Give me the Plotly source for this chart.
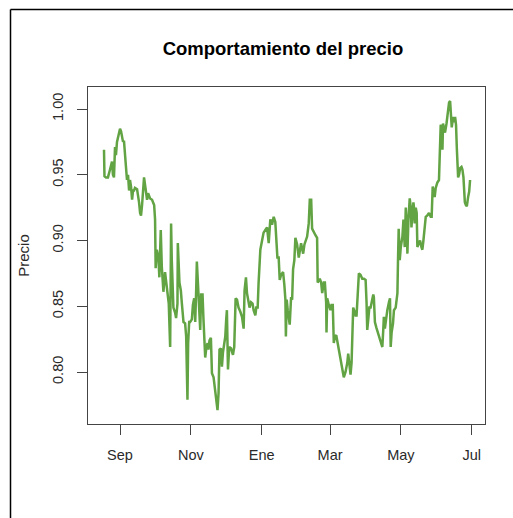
import pandas as pd
import plotly.graph_objects as go

# Serie diaria del precio: días transcurridos desde el 18-08-2012 y precio observado
inicio = "2012-08-18"
dias = [
    0.2, 0.6, 1.9, 3.6, 5.4, 7.1, 7.9, 8.8, 9.7, 10.5,
    11.4, 13.1, 14.0, 14.9, 15.7, 16.6, 17.4, 18.3, 19.2, 20.0,
    20.9, 21.8, 22.6, 23.5, 24.4, 25.2, 26.1, 26.9, 28.7, 29.5,
    30.4, 31.3, 32.1, 33.0, 33.9, 34.7, 35.6, 36.4, 37.3, 38.2,
    39.0, 39.9, 41.6, 43.4, 44.2, 44.7, 45.7, 47.1, 47.9, 49.1,
    50.0, 51.4, 52.8, 54.3, 54.8, 56.0, 57.2, 58.0, 58.6, 60.0,
    61.5, 62.3, 63.5, 63.8, 65.2, 66.4, 67.3, 68.7, 70.1, 71.0,
    72.1, 72.7, 73.6, 74.4, 75.9, 76.8, 77.9, 78.8, 79.6, 80.2,
    81.1, 82.2, 83.1, 83.9, 85.1, 85.9, 87.4, 88.3, 89.4, 90.2,
    91.1, 92.3, 93.2, 94.6, 95.4, 96.9, 98.0, 98.9, 99.7, 100.9,
    101.8, 102.7, 103.8, 104.7, 105.5, 106.1, 107.0, 108.1, 109.6, 111.3,
    112.4, 113.6, 114.8, 116.1, 117.6, 119.1, 120.5, 121.3, 122.5, 123.4,
    124.8, 125.6, 126.9, 128.2, 129.1, 130.6, 131.4, 132.6, 133.4, 134.0,
    134.9, 136.4, 137.7, 139.2, 140.7, 142.1, 143.5, 145.0, 146.4, 147.8,
    148.7, 149.6, 150.7, 151.6, 152.8, 154.5, 155.6, 156.5, 156.9, 157.6,
    158.5, 159.3, 160.2, 161.4, 162.3, 163.1, 164.2, 165.1, 166.6, 168.0,
    169.4, 170.0, 171.8, 172.9, 175.2, 176.6, 177.5, 178.7, 179.5, 180.9,
    182.4, 183.8, 184.3, 186.1, 187.3, 188.2, 189.6, 190.5, 191.6, 191.9,
    192.5, 193.9, 195.3, 196.2, 197.3, 198.2, 199.1, 200.3, 201.1, 202.5,
    203.4, 204.6, 205.7, 206.8, 208.3, 209.8, 210.6, 211.7, 212.6, 213.5,
    214.1, 214.9, 216.1, 216.9, 217.8, 218.9, 219.8, 221.2, 222.7, 224.1,
    225.6, 226.4, 227.0, 227.9, 228.8, 229.9, 231.3, 232.2, 232.7, 233.6,
    234.8, 236.2, 237.7, 239.1, 240.0, 240.8, 241.3, 242.2, 243.4, 244.3,
    245.7, 246.6, 247.2, 248.0, 249.2, 250.0, 251.5, 252.4, 253.0, 253.5,
    254.1, 255.0, 255.9, 257.3, 258.2, 259.3, 260.2, 261.1, 261.6, 262.5,
    263.6, 264.5, 265.1, 266.0, 266.8, 267.3, 267.9, 268.8, 269.6, 270.2,
    271.1, 272.5, 273.7, 274.5, 275.4, 276.5, 277.4, 278.8, 280.2, 281.7,
    282.5, 283.4, 284.0, 285.1, 286.0, 287.4, 288.8, 289.7, 290.3, 291.1,
    291.8, 292.3, 293.2, 294.0, 295.3, 296.1, 296.7, 297.5, 298.4, 299.0,
    299.8, 301.0, 301.8, 302.7, 303.5, 304.2, 304.7, 305.3, 306.1, 307.0,
    308.2, 309.0, 309.9, 311.1, 311.9, 312.8, 313.9, 314.8, 315.6,
]
precio = [
    0.969, 0.949, 0.948, 0.948, 0.954, 0.960, 0.950, 0.948, 0.971, 0.965,
    0.975, 0.982, 0.985, 0.983, 0.978, 0.975, 0.976, 0.965, 0.957, 0.946,
    0.950, 0.938, 0.946, 0.941, 0.931, 0.938, 0.938, 0.940, 0.939, 0.935,
    0.929, 0.921, 0.919, 0.927, 0.938, 0.948, 0.942, 0.938, 0.931, 0.936,
    0.933, 0.932, 0.931, 0.927, 0.916, 0.879, 0.893, 0.887, 0.872, 0.908,
    0.880, 0.861, 0.876, 0.865, 0.859, 0.852, 0.819, 0.913, 0.885, 0.849,
    0.845, 0.841, 0.852, 0.898, 0.868, 0.862, 0.852, 0.838, 0.837, 0.827,
    0.779, 0.822, 0.838, 0.838, 0.840, 0.851, 0.856, 0.838, 0.862, 0.884,
    0.868, 0.849, 0.832, 0.859, 0.859, 0.840, 0.811, 0.818, 0.822, 0.817,
    0.824, 0.826, 0.799, 0.796, 0.789, 0.781, 0.771, 0.784, 0.817, 0.818,
    0.804, 0.815, 0.822, 0.827, 0.840, 0.847, 0.802, 0.819, 0.818, 0.813,
    0.819, 0.856, 0.855, 0.849, 0.846, 0.842, 0.833, 0.862, 0.872, 0.860,
    0.853, 0.849, 0.853, 0.852, 0.847, 0.843, 0.849, 0.849, 0.868, 0.878,
    0.893, 0.900, 0.906, 0.908, 0.910, 0.898, 0.916, 0.912, 0.918, 0.914,
    0.897, 0.887, 0.887, 0.870, 0.874, 0.876, 0.866, 0.855, 0.827, 0.855,
    0.847, 0.842, 0.836, 0.857, 0.855, 0.878, 0.885, 0.902, 0.897, 0.887,
    0.897, 0.898, 0.890, 0.897, 0.903, 0.913, 0.931, 0.931, 0.909, 0.906,
    0.904, 0.902, 0.868, 0.871, 0.868, 0.860, 0.868, 0.868, 0.853, 0.830,
    0.856, 0.851, 0.847, 0.851, 0.851, 0.822, 0.827, 0.828, 0.824, 0.819,
    0.814, 0.809, 0.802, 0.796, 0.800, 0.807, 0.814, 0.804, 0.798, 0.807,
    0.830, 0.849, 0.846, 0.843, 0.843, 0.857, 0.875, 0.874, 0.871, 0.871,
    0.870, 0.853, 0.832, 0.840, 0.849, 0.849, 0.856, 0.859, 0.857, 0.838,
    0.834, 0.830, 0.824, 0.821, 0.819, 0.832, 0.842, 0.833, 0.842, 0.847,
    0.853, 0.856, 0.819, 0.830, 0.837, 0.847, 0.849, 0.857, 0.860, 0.885,
    0.909, 0.885, 0.895, 0.903, 0.916, 0.895, 0.925, 0.910, 0.890, 0.916,
    0.932, 0.925, 0.910, 0.921, 0.929, 0.925, 0.913, 0.925, 0.921, 0.895,
    0.897, 0.900, 0.895, 0.893, 0.900, 0.910, 0.918, 0.919, 0.921, 0.918,
    0.918, 0.941, 0.938, 0.933, 0.940, 0.944, 0.946, 0.971, 0.988, 0.986,
    0.969, 0.989, 0.984, 0.982, 0.989, 0.994, 0.997, 1.005, 1.006, 0.994,
    0.986, 0.994, 0.990, 0.994, 0.988, 0.970, 0.963, 0.948, 0.950, 0.955,
    0.956, 0.954, 0.948, 0.929, 0.927, 0.926, 0.933, 0.937, 0.946,
]

# Marcas del eje de tiempo (meses alternos)
meses_fecha = ["2012-09-01", "2012-11-01", "2013-01-01", "2013-03-01", "2013-05-01", "2013-07-01"]
meses_texto = ["Sep", "Nov", "Ene", "Mar", "May", "Jul"]
y_marcas = [0.80, 0.85, 0.90, 0.95, 1.00]

fechas = pd.Timestamp(inicio) + pd.to_timedelta(dias, unit="D")

fig = go.Figure()
fig.add_trace(go.Scatter(
    x=fechas, y=precio, mode="lines",
    line=dict(color="#62A344", width=2.5),
    hoverinfo="x+y", showlegend=False,
))

eje = dict(
    showline=True, linecolor="#444444", linewidth=1, mirror=True,
    ticks="outside", ticklen=10, tickcolor="#444444", tickwidth=1,
    showgrid=False, zeroline=False,
    tickfont=dict(family="Liberation Sans, Arial, sans-serif", size=14.5, color="#2a2a2a"),
)

fig.update_layout(
    width=513, height=518,
    margin=dict(l=88, r=28, t=87, b=94),
    paper_bgcolor="white", plot_bgcolor="white",
    title=dict(
        text="<b>Comportamiento del precio</b>",
        font=dict(family="Liberation Sans, Arial, sans-serif", size=18.5, color="black"),
        x=0.491, xref="paper", xanchor="center",
        y=0.906, yref="container", yanchor="middle",
    ),
    xaxis=dict(
        eje, type="date",
        range=["2012-08-04 10:00", "2013-07-12 11:00"],
        tickmode="array", tickvals=meses_fecha, ticktext=meses_texto,
        ticklabelstandoff=8,
    ),
    yaxis=dict(
        eje, range=[0.76046, 1.01673],
        tickmode="array", tickvals=y_marcas,
        ticktext=[f"{v:.2f}" for v in y_marcas],
        tickangle=-90, ticklabelstandoff=8,
        title=dict(text="Precio", standoff=16,
                   font=dict(family="Liberation Sans, Arial, sans-serif", size=15, color="#2a2a2a")),
    ),
    # marco exterior (bordes superior e izquierdo)
    shapes=[
        dict(type="line", xref="paper", yref="paper", x0=-0.1952, x1=1.1, y0=1.2300, y1=1.2300,
             line=dict(color="black", width=1.5)),
        dict(type="line", xref="paper", yref="paper", x0=-0.1952, x1=-0.1952, y0=1.2300, y1=-0.30,
             line=dict(color="black", width=1.5)),
    ],
)

fig.write_html("out.html")
